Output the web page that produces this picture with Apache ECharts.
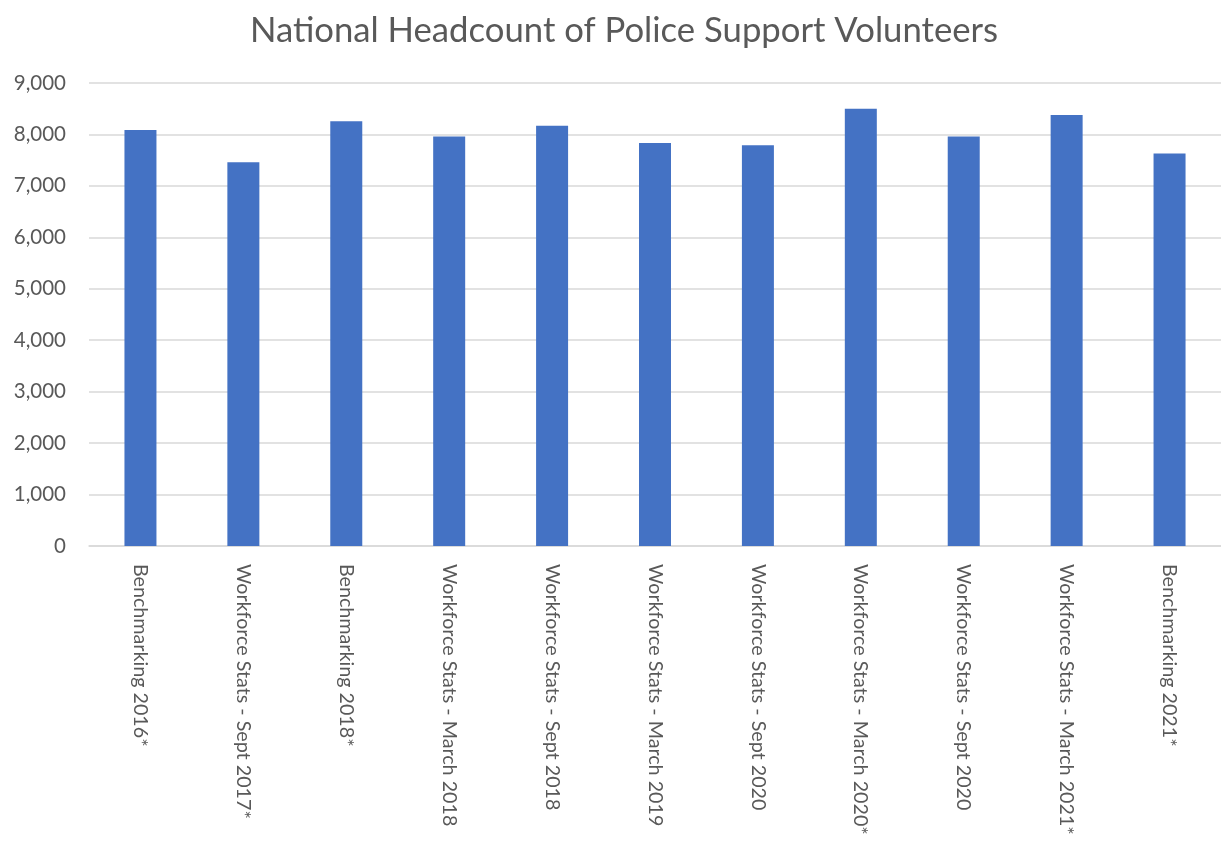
<!DOCTYPE html>
<html>
<head>
<meta charset="utf-8">
<script src="https://cdn.jsdelivr.net/npm/echarts@6/dist/echarts.min.js"></script>
<style>html,body{margin:0;padding:0;background:#fff}#c{width:1221px;height:865px}</style>
</head>
<body>
<div id="c"></div>
<script>
const categories = [
  "Benchmarking 2016*",
  "Workforce Stats - Sept 2017*",
  "Benchmarking 2018*",
  "Workforce Stats - March 2018",
  "Workforce Stats - Sept 2018",
  "Workforce Stats - March 2019",
  "Workforce Stats - Sept 2020",
  "Workforce Stats - March 2020*",
  "Workforce Stats - Sept 2020",
  "Workforce Stats - March 2021*",
  "Benchmarking 2021*"
];
const headcount = [8085, 7460, 8255, 7960, 8170, 7835, 7790, 8500, 7960, 8380, 7630];
const yTicks = { min: 0, max: 9000, interval: 1000 };

const chart = echarts.init(document.getElementById('c'), null, { renderer: 'canvas' });
const font = 'Lato, "Open Sans", sans-serif';
chart.setOption({
  animation: false,
  title: {
    text: 'National Headcount of Police Support Volunteers',
    left: 619,
    textAlign: 'center',
    top: 8,
    textStyle: { fontFamily: font, fontSize: 34.7, fontWeight: 'normal', color: '#595959' }
  },
  grid: { left: 89, right: -3, top: 83, bottom: 319, containLabel: false },
  xAxis: {
    type: 'category',
    data: categories,
    axisLine: { lineStyle: { color: '#d9d9d9', width: 1.5 } },
    axisTick: { show: false },
    axisLabel: {
      rotate: -90,
      interval: 0,
      margin: 18,
      fontFamily: font,
      fontSize: 19.7,
      color: '#595959'
    }
  },
  yAxis: {
    type: 'value',
    min: yTicks.min,
    max: yTicks.max,
    interval: yTicks.interval,
    axisLine: { show: false },
    axisTick: { show: false },
    splitLine: { lineStyle: { color: '#d9d9d9', width: 1.5 } },
    axisLabel: {
      margin: 23,
      fontFamily: font,
      fontSize: 20.5,
      color: '#595959',
      formatter: v => v.toLocaleString('en-US')
    }
  },
  series: [{
    type: 'bar',
    data: headcount,
    barWidth: 32,
    itemStyle: { color: '#4472C4' }
  }]
});
</script>
</body>
</html>
